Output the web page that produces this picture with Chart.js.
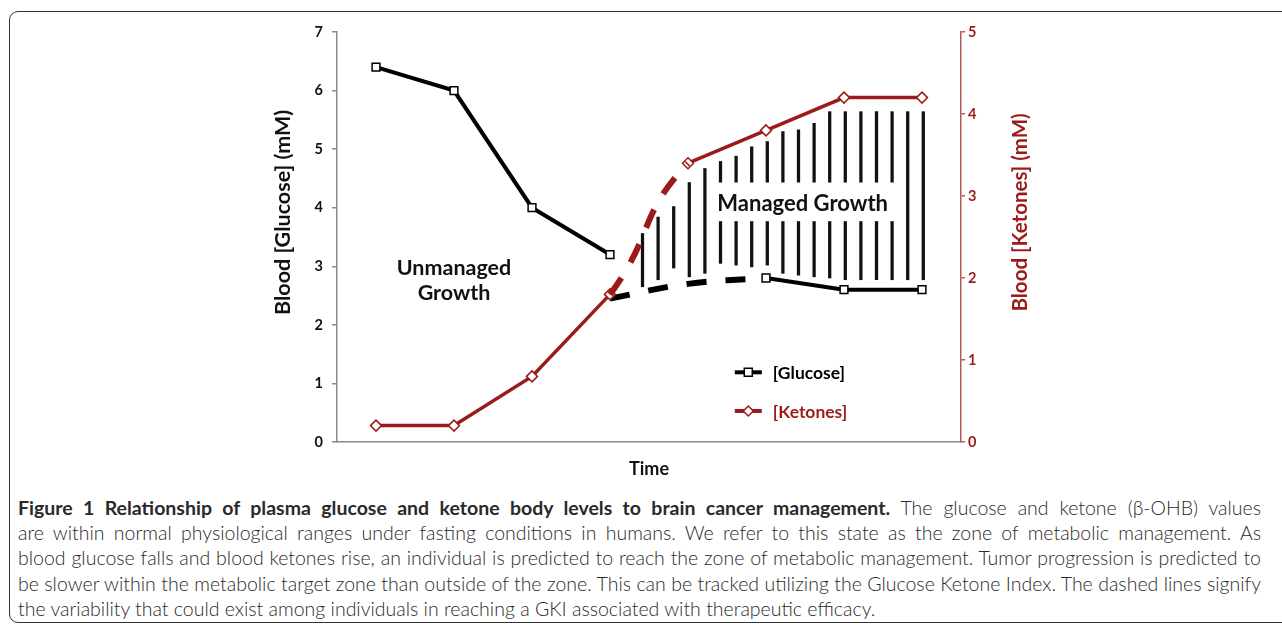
<!DOCTYPE html>
<html>
<head>
<meta charset="utf-8">
<script src="https://cdn.jsdelivr.net/npm/chart.js@4.4.1/dist/chart.umd.min.js"></script>
<style>
  html, body { margin: 0; padding: 0; background: #fff; }
  body { width: 1282px; height: 628px; position: relative; overflow: hidden; }
  #frame { position: absolute; left: 9px; top: 11px; width: 1300px; height: 612px;
           border: 1.5px solid #333; border-radius: 9px; box-sizing: border-box; }
  #wrap { position: absolute; left: 0; top: 0; width: 1282px; height: 490px; }
  #caption { position: absolute; left: 18px; top: 495px; width: 1243px;
             font-family: "Lato", sans-serif; font-weight: 300; font-size: 19.5px; line-height: 25.2px; color: #2a2a2a; }
  #caption b { font-weight: 700; }
  #caption .j { text-align: justify; text-align-last: justify; }
</style>
</head>
<body>
<div id="frame"></div>
<div id="wrap"><canvas id="chart" width="1282" height="490"></canvas></div>
<div id="caption">
  <div class="j"><b>Figure 1 Relationship of plasma glucose and ketone body levels to brain cancer management.</b> The glucose and ketone (β-OHB) values</div>
  <div class="j">are within normal physiological ranges under fasting conditions in humans. We refer to this state as the zone of metabolic management. As</div>
  <div class="j">blood glucose falls and blood ketones rise, an individual is predicted to reach the zone of metabolic management. Tumor progression is predicted to</div>
  <div class="j">be slower within the metabolic target zone than outside of the zone. This can be tracked utilizing the Glucose Ketone Index. The dashed lines signify</div>
  <div>the variability that could exist among individuals in reaching a GKI associated with therapeutic efficacy.</div>
</div>
<script>
// data
const timeLabels = ['1', '2', '3', '4', '5', '6', '7', '8'];
const glucoseSolid = [6.4, 6.0, 4.0, 3.2, null, 2.8, 2.6, 2.6];
const glucoseDashed = [null, null, null, 2.45, 2.7, 2.8, null, null];
const ketonesSolid = [0.2, 0.2, 0.8, 1.8, 3.4, 3.8, 4.2, 4.2];
const ketonesDashed = [null, null, 0.8, 1.8, 3.4, 3.8, null, null];
// hatch of the "managed" zone, in glucose units
const hatchX = [4.4, 4.6, 4.8, 5.0, 5.2, 5.4, 5.6, 5.8, 6.0, 6.2, 6.4, 6.6, 6.8, 7.0, 7.2, 7.4, 7.6, 7.8, 8.0];
const hatchTop = [3.56, 3.84, 4.02, 4.43, 4.67, 4.79, 4.88, 5.04, 5.13, 5.30, 5.33, 5.44, 5.64, 5.64, 5.64, 5.64, 5.64, 5.64, 5.64];
const hatchBottom = [2.65, 2.77, 2.97, 2.82, 2.88, 3.05, 3.02, 2.99, 3.02, 2.88, 2.85, 2.82, 2.80, 2.77, 2.77, 2.77, 2.77, 2.77, 2.77];

const RED = '#9b1b1b';
const AXIS_GREY = '#8a8a8a';
const FONT = 'Lato';

const overlay = {
  id: 'overlay',
  afterDatasetsDraw(chart) {
    const ctx = chart.ctx;
    const area = chart.chartArea;
    const xh = chart.scales.xh, y = chart.scales.y;
    ctx.save();
    // gap in the hatch behind the label
    const bx1 = xh.getPixelForValue(5.27), bx2 = xh.getPixelForValue(7.68);
    const by1 = y.getPixelForValue(4.43), by2 = y.getPixelForValue(3.77);
    ctx.fillStyle = '#fff';
    ctx.fillRect(bx1, by1, bx2 - bx1, by2 - by1);

    ctx.fillStyle = '#111';
    ctx.textAlign = 'center';
    ctx.textBaseline = 'middle';
    ctx.font = 'bold 22px ' + FONT;
    ctx.fillText('Managed Growth', xh.getPixelForValue(6.47), y.getPixelForValue(4.06));
    ctx.font = 'bold 21.5px ' + FONT;
    ctx.fillText('Unmanaged', xh.getPixelForValue(2.0), y.getPixelForValue(2.97));
    ctx.fillText('Growth', xh.getPixelForValue(2.0), y.getPixelForValue(2.54));

    // legend
    const lx = xh.getPixelForValue(5.6);
    const rows = [
      {text: '[Glucose]', color: '#000', v: 1.19, shape: 'rect'},
      {text: '[Ketones]', color: RED, v: 0.53, shape: 'diamond'}
    ];
    ctx.textAlign = 'left';
    ctx.font = 'bold 17.5px ' + FONT;
    rows.forEach(r => {
      const ly = y.getPixelForValue(r.v);
      ctx.strokeStyle = r.color;
      ctx.lineWidth = 4;
      ctx.beginPath();
      ctx.moveTo(lx, ly);
      ctx.lineTo(lx + 27, ly);
      ctx.stroke();
      ctx.fillStyle = '#fff';
      ctx.lineWidth = 1.5;
      ctx.beginPath();
      const cx = lx + 13.5;
      if (r.shape === 'rect') {
        ctx.rect(cx - 4, ly - 4, 8, 8);
      } else {
        ctx.moveTo(cx, ly - 5); ctx.lineTo(cx + 5, ly); ctx.lineTo(cx, ly + 5); ctx.lineTo(cx - 5, ly); ctx.closePath();
      }
      ctx.fill();
      ctx.stroke();
      ctx.fillStyle = r.color;
      ctx.fillText(r.text, lx + 38, ly + 1);
    });

    // axis titles
    const ty = y.getPixelForValue(3.92);
    ctx.textAlign = 'center';
    ctx.save();
    ctx.font = 'bold 21.5px ' + FONT;
    ctx.translate(area.left - 54, ty);
    ctx.rotate(-Math.PI / 2);
    ctx.fillStyle = '#111';
    ctx.fillText('Blood [Glucose] (mM)', 0, 0);
    ctx.restore();
    ctx.save();
    ctx.font = 'bold 20.5px ' + FONT;
    ctx.translate(area.right + 59, ty);
    ctx.rotate(-Math.PI / 2);
    ctx.fillStyle = RED;
    ctx.fillText('Blood [Ketones] (mM)', 0, 0);
    ctx.restore();
    ctx.restore();
  }
};

const dashSeg = (idx, val) => ctx => ctx.p0DataIndex === idx ? val : undefined;

new Chart(document.getElementById('chart'), {
  type: 'line',
  data: {
    labels: timeLabels,
    datasets: [
      {
        label: 'ketones dashed', data: ketonesDashed, yAxisID: 'y1', order: 1,
        borderColor: 'transparent', borderWidth: 6, borderDash: [20, 18], tension: 0.5,
        pointRadius: 0, borderCapStyle: 'butt',
        segment: { borderColor: dashSeg(3, RED) }
      },
      {
        label: '[Ketones]', data: ketonesSolid, yAxisID: 'y1', order: 2,
        borderColor: RED, borderWidth: 3.5, tension: 0,
        pointStyle: 'rectRot', pointRadius: 5.5, pointBackgroundColor: '#fff', pointBorderColor: RED, pointBorderWidth: 1.5,
        segment: { borderColor: dashSeg(3, 'transparent') }
      },
      {
        label: '[Glucose]', data: glucoseSolid, yAxisID: 'y', order: 3,
        borderColor: '#000', borderWidth: 4, tension: 0, spanGaps: false,
        pointStyle: 'rect', pointRadius: 5.5, pointBackgroundColor: '#fff', pointBorderColor: '#000', pointBorderWidth: 1.5
      },
      {
        label: 'glucose dashed', data: glucoseDashed, yAxisID: 'y', order: 4,
        borderColor: '#000', borderWidth: 6, borderDash: [20, 19], tension: 0.4,
        pointRadius: 0, borderCapStyle: 'butt'
      },
      {
        type: 'bar', label: 'managed zone', xAxisID: 'xh', yAxisID: 'y', order: 10,
        data: hatchX.map((x, i) => ({x: x, y: [hatchBottom[i], hatchTop[i]]})),
        backgroundColor: '#111', borderWidth: 0, barThickness: 2.6
      }
    ]
  },
  options: {
    responsive: false,
    animation: false,
    devicePixelRatio: 1,
    layout: { padding: { left: 260, right: 237, top: 32, bottom: 0 } },
    plugins: { legend: { display: false }, tooltip: { enabled: false } },
    scales: {
      x: {
        type: 'category', offset: true,
        ticks: { display: false },
        grid: { drawOnChartArea: false, drawTicks: false, color: AXIS_GREY },
        border: { color: AXIS_GREY, width: 1.5 },
        title: { display: true, text: 'Time', color: '#111', font: { family: FONT, weight: 'bold', size: 18 }, padding: { top: 0, bottom: 10 } },
        afterFit: s => { s.height = 48; }
      },
      xh: { type: 'linear', display: false, min: 0.5, max: 8.5, offset: false },
      y: {
        position: 'left', min: 0, max: 7,
        ticks: { stepSize: 1, color: '#111', padding: 9, font: { family: FONT, weight: 'bold', size: 14.5 } },
        grid: { drawOnChartArea: false, tickLength: 5, color: AXIS_GREY, lineWidth: 1.5 },
        border: { color: AXIS_GREY, width: 1.5 },
        afterFit: s => { s.width = 77; }
      },
      y1: {
        position: 'right', min: 0, max: 5,
        ticks: { stepSize: 1, color: RED, padding: 3, font: { family: FONT, weight: 'bold', size: 14.5 } },
        grid: { drawOnChartArea: false, tickLength: 4, color: '#b35a5a', lineWidth: 1.5 },
        border: { color: '#b35a5a', width: 1.5 },
        afterFit: s => { s.width = 84; }
      }
    }
  },
  plugins: [overlay]
});
</script>
</body>
</html>
